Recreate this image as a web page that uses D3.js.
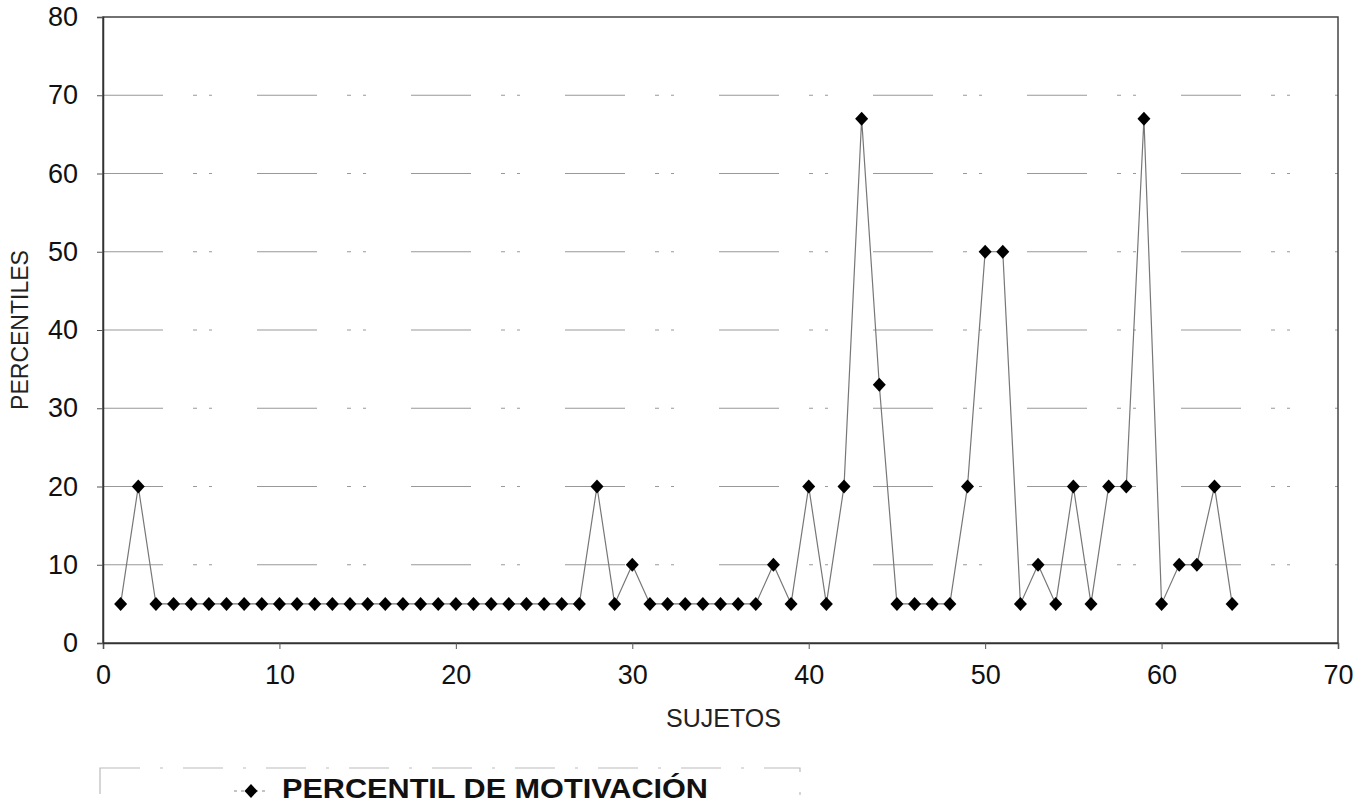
<!DOCTYPE html>
<html><head><meta charset="utf-8">
<script src="https://cdn.jsdelivr.net/npm/d3@7"></script>
<style>body{margin:0;background:#fff;}text{font-family:"Liberation Sans",Arial,sans-serif;}</style>
</head><body>
<svg id="c" width="1366" height="809"></svg>
<script>
const subjects = d3.range(1, 65);
const percentiles = [5,20,5,5,5,5,5,5,5,5,5,5,5,5,5,5,5,5,5,5,5,5,5,5,5,5,5,20,5,10,5,5,5,5,5,5,5,10,5,20,5,20,67,33,5,5,5,5,20,50,50,5,10,5,20,5,20,20,67,5,10,10,20,5];
const xTicks = [0,10,20,30,40,50,60,70];
const yTicks = [0,10,20,30,40,50,60,70,80];
const seriesName = "PERCENTIL DE MOTIVACIÓN";
const xTitle = "SUJETOS", yTitle = "PERCENTILES";

const svg = d3.select("#c");
const L=103, R=1338, T=17, B=643;
const x = d3.scaleLinear().domain([0,70]).range([L,R]);
const y = d3.scaleLinear().domain([0,80]).range([B,T]);

// gridlines
svg.append("g").selectAll("line").data(yTicks.filter(d=>d>0&&d<80)).join("line")
  .attr("x1",L).attr("x2",R).attr("y1",d=>y(d)).attr("y2",d=>y(d))
  .attr("stroke","#999").attr("stroke-width",1.2).attr("stroke-dasharray","60,30,4,12,3,45");

// plot frame
svg.append("rect").attr("x",L).attr("y",T).attr("width",R-L).attr("height",B-T)
  .attr("fill","none").attr("stroke","#444").attr("stroke-width",1.5);

// axes
const xa = svg.append("g").attr("transform",`translate(0,${B})`)
  .call(d3.axisBottom(x).tickValues(xTicks).tickSize(6).tickPadding(16));
const ya = svg.append("g").attr("transform",`translate(${L},0)`)
  .call(d3.axisLeft(y).tickValues(yTicks).tickSize(6).tickPadding(19));
[xa,ya].forEach(a=>{
  a.attr("font-size",27).attr("font-family","'Liberation Sans',Arial,sans-serif");
  a.select(".domain").attr("stroke","#333").attr("stroke-width",1.5);
  a.selectAll(".tick line").attr("stroke","#555");
  a.selectAll(".tick text").attr("fill","#111");
});

// titles
svg.append("text").attr("x",(L+R)/2+3).attr("y",727).attr("text-anchor","middle")
  .attr("font-size",25).attr("fill","#222").text(xTitle);
svg.append("text").attr("transform",`translate(28,${(T+B)/2}) rotate(-90)`).attr("text-anchor","middle")
  .attr("font-size",23).attr("fill","#222").text(yTitle);

// line
const pts = subjects.map((s,i)=>[s,percentiles[i]]);
svg.append("path").datum(pts)
  .attr("d",d3.line().x(d=>x(d[0])).y(d=>y(d[1])))
  .attr("fill","none").attr("stroke","#777").attr("stroke-width",1.2);

// markers (diamond)
const dia = "M0,-7L6.5,0L0,7L-6.5,0Z";
svg.append("g").selectAll("path").data(pts).join("path")
  .attr("transform",d=>`translate(${x(d[0])},${y(d[1])})`)
  .attr("d",dia).attr("fill","#000");

// legend
const lg = svg.append("g");
lg.append("rect").attr("x",100).attr("y",768).attr("width",700).attr("height",60)
  .attr("fill","none").attr("stroke","#bbb").attr("stroke-width",1.2).attr("stroke-dasharray","40,20,3,20");
lg.append("line").attr("x1",234).attr("x2",266).attr("y1",791).attr("y2",791).attr("stroke","#888").attr("stroke-dasharray","3,4");
lg.append("path").attr("transform","translate(251,791)").attr("d",dia).attr("fill","#000");
lg.append("text").attr("x",282).attr("y",798).attr("font-size",27).attr("font-weight","bold")
  .attr("textLength",426).attr("lengthAdjust","spacingAndGlyphs")
  .attr("fill","#111").text(seriesName);
</script>
</body></html>
